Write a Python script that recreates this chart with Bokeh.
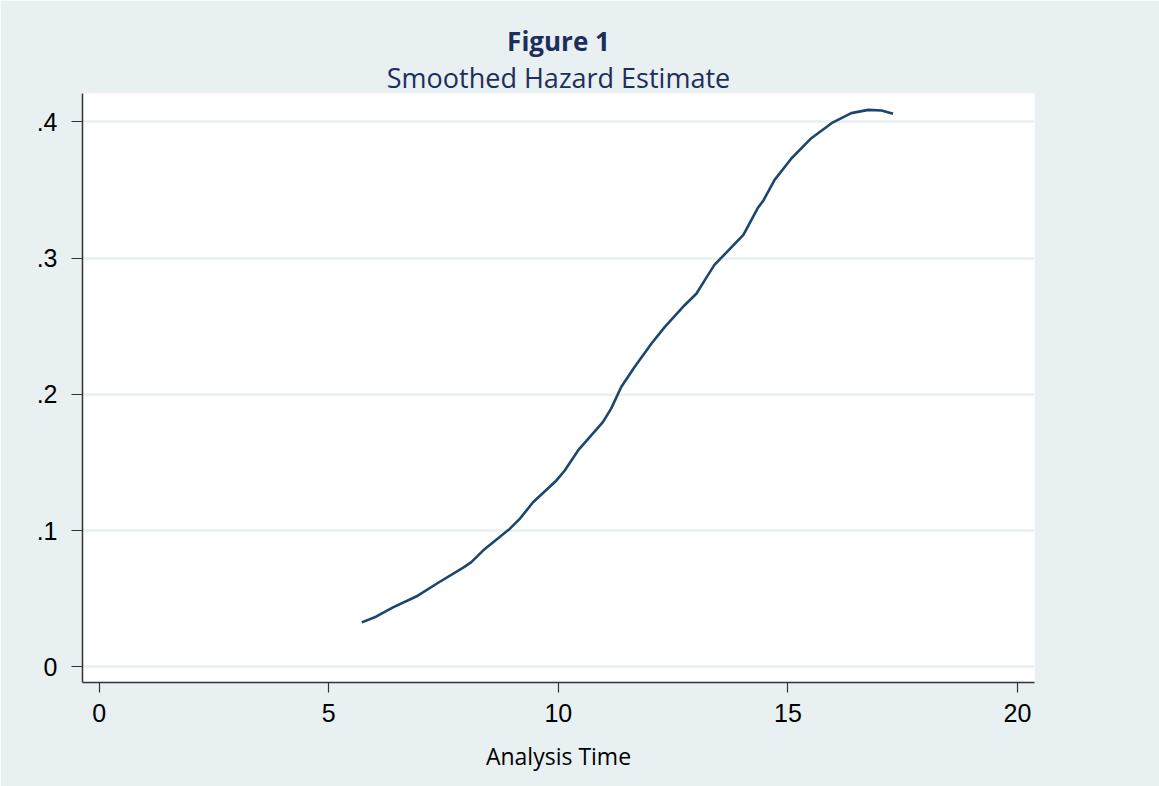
from bokeh.plotting import figure
from bokeh.models import Title, FixedTicker, Range1d
from bokeh.embed import file_html
from bokeh.resources import INLINE

# Smoothed hazard estimate
analysis_time = [5.72, 6.03, 6.40, 6.94, 7.34, 7.92, 8.10, 8.36, 8.94, 9.16,
                 9.45, 9.96, 10.14, 10.43, 10.97, 11.15, 11.37, 11.66, 12.03, 12.32,
                 12.75, 13.01, 13.19, 13.40, 14.03, 14.34, 14.47, 14.71, 15.08, 15.51,
                 15.95, 16.38, 16.75, 17.04, 17.29]
hazard = [0.0326, 0.0368, 0.0436, 0.0522, 0.0608, 0.0726, 0.0767, 0.0853, 0.1012, 0.1086,
          0.1208, 0.1368, 0.1441, 0.1588, 0.1796, 0.1895, 0.2054, 0.2201, 0.2373, 0.2495,
          0.2654, 0.2740, 0.2838, 0.2950, 0.3170, 0.3365, 0.3425, 0.3574, 0.3733, 0.3880,
          0.3990, 0.4064, 0.4088, 0.4083, 0.4059]

x_ticks = [0, 5, 10, 15, 20]
y_ticks = [0, 0.1, 0.2, 0.3, 0.4]
y_tick_labels = ["0", ".1", ".2", ".3", ".4"]

BG = "#E8F0F2"
NAVY = "#1E2E5B"

p = figure(frame_width=952, frame_height=589,
           min_border_left=82, min_border_top=93, min_border_right=125, min_border_bottom=104,
           output_backend="svg", toolbar_location=None,
           x_range=Range1d(-0.362, 20.37), y_range=Range1d(-0.0115, 0.4208))

p.background_fill_color = "white"
p.border_fill_color = BG
p.outline_line_color = None

p.title.text = "Figure 1"
p.title.align = "center"
p.title.text_font = "Open Sans"
p.title.text_font_style = "bold"
p.title.text_font_size = "26px"
p.title.text_color = NAVY
p.title.standoff = 0

sub = Title(text="Smoothed Hazard Estimate", align="center", text_font="Open Sans",
            text_font_style="normal", text_font_size="27px", text_color=NAVY, standoff=-4)
p.add_layout(sub, "above")

p.line(analysis_time, hazard, line_color="#1A476F", line_width=2.6)

# grid
p.xgrid.grid_line_color = None
p.ygrid.grid_line_color = BG
p.ygrid.grid_line_width = 2.5
p.ygrid.ticker = FixedTicker(ticks=y_ticks)

# x axis
xa = p.xaxis[0]
xa.ticker = FixedTicker(ticks=x_ticks)
xa.minor_tick_line_color = None
xa.major_tick_in = 0
xa.major_tick_out = 10
xa.axis_line_color = "#333333"
xa.axis_line_width = 1.5
xa.major_tick_line_color = "#333333"
xa.major_tick_line_width = 1.2
xa.major_label_text_font = "Liberation Sans"
xa.major_label_text_font_size = "25px"
xa.major_label_text_color = "black"
xa.major_label_standoff = 11
xa.axis_label = "Analysis Time"
xa.axis_label_text_font = "Open Sans"
xa.axis_label_text_font_style = "normal"
xa.axis_label_text_font_size = "23px"
xa.axis_label_text_color = "black"
xa.axis_label_standoff = 15

# y axis
ya = p.yaxis[0]
ya.ticker = FixedTicker(ticks=y_ticks)
ya.major_label_overrides = {t: l for t, l in zip(y_ticks, y_tick_labels)}
ya.minor_tick_line_color = None
ya.major_tick_in = 0
ya.major_tick_out = 11
ya.axis_line_color = "#333333"
ya.axis_line_width = 1.5
ya.major_tick_line_color = "#333333"
ya.major_tick_line_width = 1.2
ya.major_label_text_font = "Liberation Sans"
ya.major_label_text_font_size = "25px"
ya.major_label_text_color = "black"
ya.major_label_standoff = 14

open("out.html", "w").write(file_html(p, INLINE))
